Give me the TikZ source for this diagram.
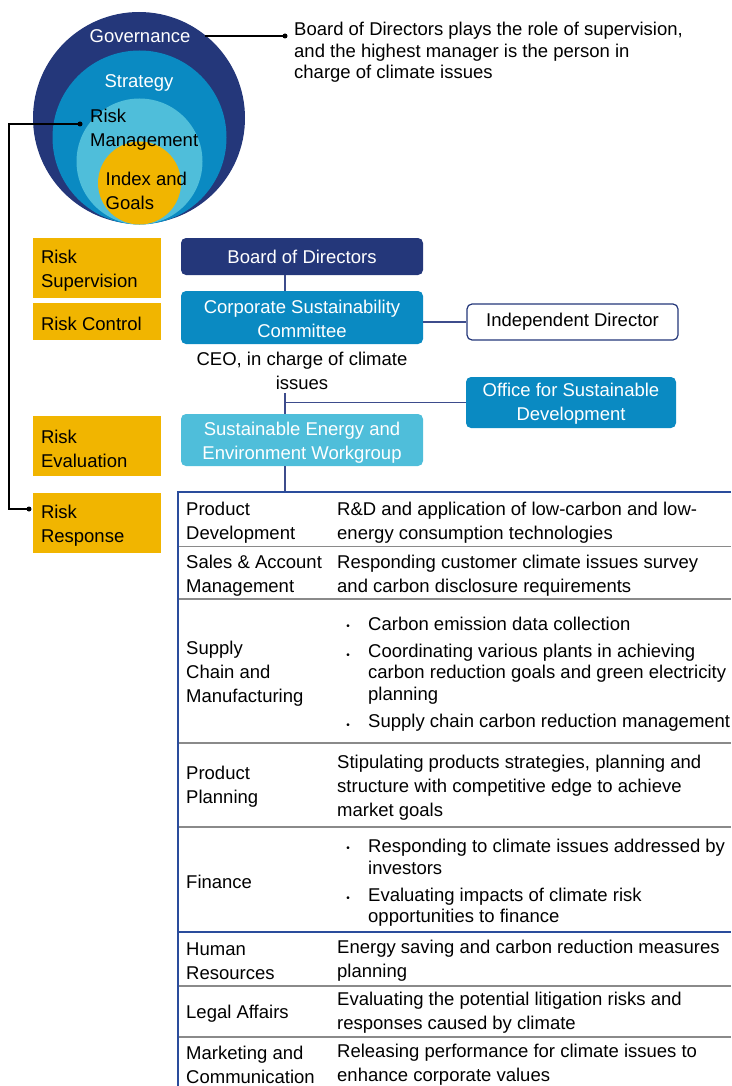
\documentclass[tikz,border=0pt]{standalone}
\usepackage{fontspec}
\setmainfont{Liberation Sans}
\definecolor{navy}{HTML}{24377A}
\definecolor{midblue}{HTML}{0A8AC2}
\definecolor{lightblue}{HTML}{4FBEDA}
\definecolor{gold}{HTML}{F1B500}
\definecolor{linenavy}{HTML}{3D4C8C}
\definecolor{sepgray}{HTML}{8A8A8A}
\definecolor{tableblue}{HTML}{2A4C9C}
\tikzset{
  txt/.style={inner sep=0pt, align=left, yshift=-2.5pt, font=\fontsize{18.5}{24}\selectfont},
  tight/.style={font=\fontsize{18.5}{21.5}\selectfont},
  ctxt/.style={inner sep=0pt, align=center, yshift=-2.5pt, font=\fontsize{18.5}{24}\selectfont},
  obox/.style={rounded corners=5pt, minimum width=242pt, align=center, text=white, inner sep=0pt, font=\fontsize{18.5}{24}\selectfont},
  ybox/.style={fill=gold, minimum width=128pt, inner sep=0pt},
  conn/.style={black, line width=1.2pt},
  orgline/.style={linenavy, line width=1.3pt},
  bul/.style={inner sep=0pt, yshift=-5.5pt, font=\fontsize{10}{10}\selectfont},
  sep/.style={sepgray, line width=1.2pt}
}
\begin{document}
\begin{tikzpicture}[x=1pt,y=-1pt]
\useasboundingbox (0,0) rectangle (731,1086);
% nested circles
\fill[navy] (139,118) circle (106pt);
\fill[midblue] (139.5,137.5) circle (87pt);
\fill[lightblue] (139.5,161.5) circle (63pt);
\fill[gold] (139.5,183) circle (41.5pt);
\node[ctxt, text=white] (gov) at (140,34) {Governance};
\node[ctxt, text=white] (str) at (139,80) {Strategy};
\node[txt, anchor=west] (rm) at (90,127) {Risk\\Management};
\node[txt, anchor=west] (ig) at (105.5,188.5) {Index and\\Goals};
% governance note
\coordinate (govL) at (205,36);
\coordinate (govR) at (285,36);
\draw[conn] (govL) -- (govR);
\fill (govR) circle (2.5pt);
\node[txt, tight, anchor=west] (note) at (294,50) {Board of Directors plays the role of supervision,\\and the highest manager is the person in\\charge of climate issues};
% risk management connector
\coordinate (rmdot) at (80,124);
\coordinate (rrdot) at (29,509);
\draw[conn] (rmdot) -- ++(-71,0) |- (rrdot);
\fill (rmdot) circle (2.5pt);
\fill (rrdot) circle (2.5pt);
% yellow boxes
\node[ybox, minimum height=60pt] (rs) at (97,268) {};
\node[txt, anchor=west] (rst) at ([xshift=8pt]rs.west) {Risk\\Supervision};
\node[ybox, minimum height=37pt] (rc) at (97,321.5) {};
\node[txt, anchor=west] (rct) at ([xshift=8pt]rc.west) {Risk Control};
\node[ybox, minimum height=60pt] (re) at (97,446) {};
\node[txt, anchor=west] (ret) at ([xshift=8pt]re.west) {Risk\\Evaluation};
\node[ybox, minimum height=60pt] (rr) at (97,523) {};
\node[txt, anchor=west] (rrt) at ([xshift=8pt]rr.west) {Risk\\Response};
% org boxes
\node[obox, fill=navy, minimum height=37pt] (bod) at (302,256.5) {Board of Directors};
\node[obox, fill=midblue, minimum height=53pt] (csc) at (302,317.5) {\rule{0pt}{16pt}Corporate Sustainability\\Committee};
\node[obox, fill=lightblue, minimum height=52pt] (seew) at (302,440) {\rule{0pt}{18pt}Sustainable Energy and\\Environment Workgroup};
\node[obox, fill=midblue, minimum width=210pt, minimum height=51pt] (osd) at (571,402.5) {\rule{0pt}{16pt}Office for Sustainable\\Development};
\node[obox, fill=white, draw=navy, line width=1.2pt, text=black, minimum width=211pt, minimum height=36pt] (ind) at (572.5,322) {Independent Director};
\node[ctxt] (ceo) at (302,368.5) {CEO, in charge of climate\\issues};
% org lines
\draw[orgline] ([xshift=-17pt]bod.south) -- ([xshift=-17pt]csc.north);
\draw[orgline] (ind.west -| csc.east) -- (ind.west);
\coordinate (ceoline) at (285,393);
\draw[orgline] (ceoline) -- ([xshift=-17pt]seew.north);
\draw[orgline] (osd.west -| ceoline) -- (osd.west);
\coordinate (tabtop) at (285,492);
\draw[orgline] ([xshift=-17pt]seew.south) -- (tabtop);
% table frame
\coordinate (tl) at (178,492);
\coordinate (tr) at (731,492);
\coordinate (bl) at (178,1086);
\foreach \yy in {546.5,599,743,827,986,1037} \draw[sep] (178,\yy) -- (731,\yy);
\draw[tableblue, line width=1.2pt] (178,932) -- (731,932);
\draw[tableblue, line width=1.6pt] (tr) -- (tl) -- (bl);
% table left column
\node[txt, anchor=west] (c1) at (186,520.5) {Product\\Development};
\node[txt, anchor=west] (c2) at (186,573.5) {Sales \& Account\\Management};
\node[txt, anchor=west] (c3) at (186,671.5) {Supply\\Chain and\\Manufacturing};
\node[txt, anchor=west] (c4) at (186,784.5) {Product\\Planning};
\node[txt, anchor=west] (c5) at (186,879.5) {Finance};
\node[txt, anchor=west] (c6) at (186,958.5) {Human\\Resources};
\node[txt, anchor=west] (c7) at (186,1011.5) {Legal Affairs};
\node[txt, anchor=west] (c8) at (186,1062) {Marketing and\\Communication};
% table right column
\node[txt, anchor=west] (d1) at (337,520.5) {R\&D and application of low-carbon and low-\\energy consumption technologies};
\node[txt, anchor=west] (d2) at (337,573.5) {Responding customer climate issues survey\\and carbon disclosure requirements};
\node[bul] (b31) at (348,622) {•};
\node[txt, anchor=west] (d31) at (368,621) {Carbon emission data collection};
\node[bul] (b32) at (348,651) {•};
\node[txt, tight, anchor=west] (d32) at (368,671.5) {Coordinating various plants in achieving\\carbon reduction goals and green electricity\\planning};
\node[bul] (b33) at (348,721) {•};
\node[txt, anchor=west] (d33) at (368,720) {Supply chain carbon reduction management};
\node[txt, anchor=west] (d4) at (337,785.5) {Stipulating products strategies, planning and\\structure with competitive edge to achieve\\market goals};
\node[bul] (b51) at (348,844) {•};
\node[txt, tight, anchor=west] (d51) at (368,854.5) {Responding to climate issues addressed by\\investors};
\node[bul] (b52) at (348,894) {•};
\node[txt, tight, anchor=west] (d52) at (368,904.5) {Evaluating impacts of climate risk\\opportunities to finance};
\node[txt, anchor=west] (d6) at (337,958.5) {Energy saving and carbon reduction measures\\planning};
\node[txt, anchor=west] (d7) at (337,1010.5) {Evaluating the potential litigation risks and\\responses caused by climate};
\node[txt, anchor=west] (d8) at (337,1062) {Releasing performance for climate issues to\\enhance corporate values};
\end{tikzpicture}
\end{document}
